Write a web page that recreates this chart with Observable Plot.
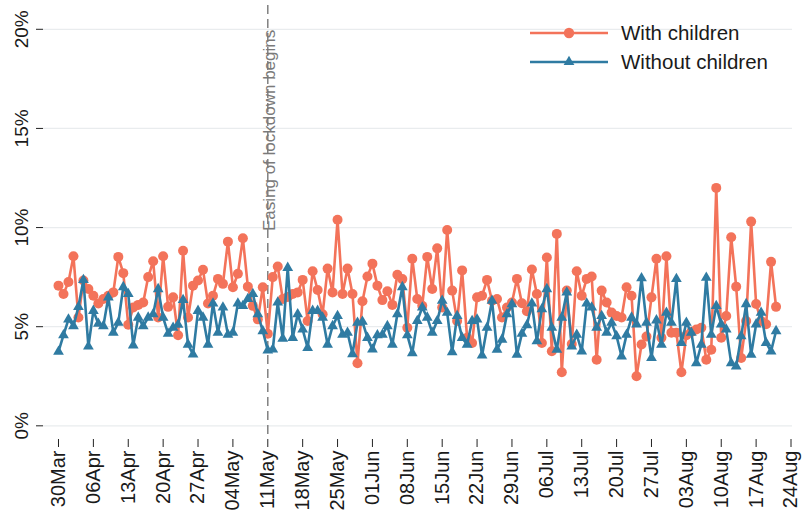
<!DOCTYPE html>
<html>
<head>
<meta charset="utf-8">
<script src="https://cdn.jsdelivr.net/npm/d3@7"></script>
<script src="https://cdn.jsdelivr.net/npm/@observablehq/plot@0.6"></script>
<style>
  body { margin: 0; background: #fff; font-family: "Liberation Sans", Arial, sans-serif; }
  #wrap { position: relative; width: 805px; height: 518px; overflow: hidden; }
  #legend { position: absolute; left: 0; top: 0; pointer-events: none; }
</style>
</head>
<body>
<div id="wrap"><div id="chart"></div><svg id="legend" width="805" height="100"></svg></div>
<script>
// ---- data ----
const startDate = "2020-03-30";
const seriesNames = ["With children", "Without children"];
const seriesColors = ["#f3735a", "#2f7ba2"];
const withChildren = [
  7.07, 6.65, 7.25, 8.55, 5.46, 7.33, 6.9, 6.56, 6.17, 6.4,
  6.56, 6.73, 8.52, 7.7, 5.1, 5.97, 6.1, 6.22, 7.5, 8.3,
  5.46, 8.55, 6.0, 6.48, 4.57, 8.83, 5.46, 7.07, 7.33, 7.87,
  6.17, 6.56, 7.41, 7.16, 9.29, 6.99, 7.67, 9.46, 7.02, 6.05,
  5.37, 6.99, 4.64, 7.5, 8.04, 6.4, 6.5, 6.65, 6.73, 7.36,
  5.29, 7.8, 6.85, 5.63, 7.93, 6.73, 10.39, 6.65, 7.93, 6.65,
  3.16, 6.28, 7.53, 8.18, 7.07, 6.34, 6.79, 6.1, 7.62, 7.4,
  4.95, 8.43, 6.4, 6.05, 8.52, 6.9, 8.95, 5.97, 9.88, 6.82,
  5.29, 7.84, 4.44, 4.18, 6.48, 6.56, 7.36, 6.31, 6.4, 5.46,
  5.97, 6.22, 7.41, 6.18, 5.78, 7.88, 6.65, 4.18, 8.49, 3.76,
  9.68, 2.7, 6.82, 4.13, 7.8, 6.56, 7.41, 7.53, 3.33, 6.82,
  6.22, 5.71, 5.54, 5.46, 6.99, 6.56, 2.5, 4.1, 4.5, 6.48,
  8.43, 4.44, 8.55, 4.7, 4.7, 2.7, 4.57, 4.74, 4.86, 4.95,
  3.33, 3.84, 12.0, 4.44, 5.54, 9.51, 7.02, 3.42, 5.29, 10.3,
  6.14, 5.29, 5.12, 8.27, 6.0
];
const withoutChildren = [
  3.74, 4.57, 5.37, 5.03, 6.0, 7.36, 4.0, 5.8, 5.15, 5.03,
  6.48, 4.7, 5.2, 7.0, 6.65, 4.06, 5.46, 5.03, 5.46, 5.63,
  6.9, 5.46, 4.65, 4.95, 5.1, 6.35, 4.1, 3.6, 5.8, 5.46,
  4.1, 6.17, 4.7, 5.97, 4.6, 4.7, 6.17, 6.05, 6.4, 6.65,
  5.63, 4.78, 3.8, 3.85, 6.22, 4.4, 7.97, 4.44, 5.63, 4.86,
  3.93, 5.8, 5.8, 5.46, 4.1, 5.03, 5.54, 4.6, 4.7, 3.62,
  5.2, 5.25, 4.44, 3.85, 4.57, 4.6, 5.03, 4.1, 5.63, 7.0,
  4.57, 3.67, 5.29, 5.97, 5.46, 4.7, 5.29, 6.31, 5.71, 3.72,
  5.54, 4.44, 4.1, 5.29, 5.37, 3.55, 4.95, 6.31, 3.84, 4.35,
  5.63, 6.14, 3.59, 4.65, 5.08, 6.17, 4.27, 5.88, 6.9, 4.95,
  3.84, 5.46, 6.73, 4.0, 4.6, 3.76, 6.17, 5.97, 4.95, 5.54,
  4.7, 5.2, 4.52, 3.5, 4.6, 5.46, 5.12, 7.45, 5.2, 3.42,
  5.32, 4.1, 5.71, 5.2, 7.41, 4.18, 5.2, 4.7, 3.16, 4.1,
  7.47, 4.6, 6.05, 5.12, 4.86, 3.16, 3.0, 4.52, 6.14, 3.59,
  5.12, 5.71, 4.18, 3.76, 4.78
];
const tickDates = [
  "2020-03-30", "2020-04-06", "2020-04-13", "2020-04-20", "2020-04-27", "2020-05-04",
  "2020-05-11", "2020-05-18", "2020-05-25", "2020-06-01", "2020-06-08", "2020-06-15",
  "2020-06-22", "2020-06-29", "2020-07-06", "2020-07-13", "2020-07-20", "2020-07-27",
  "2020-08-03", "2020-08-10", "2020-08-17", "2020-08-24"
];
const yTicks = [0, 5, 10, 15, 20];
const lockdownDate = "2020-05-11";
const lockdownLabel = "Easing of lockdown begins";
const lockdownLabelY = 14.9;

// ---- build table ----
const start = new Date(startDate);
const rows = [];
[withChildren, withoutChildren].forEach((vals, s) => {
  vals.forEach((v, i) => rows.push({date: d3.utcDay.offset(start, i), value: v, series: seriesNames[s]}));
});
const rowsWith = rows.filter(d => d.series === seriesNames[0]);
const rowsWithout = rows.filter(d => d.series === seriesNames[1]);
const DAY = 864e5;
const xDomain = [new Date(+new Date(tickDates[0]) - 3.01 * DAY), new Date(+new Date(tickDates[tickDates.length - 1]) + 0.3 * DAY)];
const lockdown = new Date(lockdownDate);

const chart = Plot.plot({
  width: 805,
  height: 518,
  marginTop: 5,
  marginBottom: 79,
  marginLeft: 43,
  marginRight: 13,
  style: {fontFamily: "'Liberation Sans', Arial, sans-serif", fontSize: "19px", color: "#1a1a1a", background: "#fff"},
  x: {type: "utc", domain: xDomain},
  y: {domain: [-0.69, 21.2]},
  color: {domain: seriesNames, range: seriesColors},
  marks: [
    Plot.gridY(yTicks, {stroke: "#e9ecee", strokeOpacity: 1, strokeWidth: 1.2}),
    Plot.axisY(yTicks, {tickFormat: d => d + "%", tickRotate: -90, tickSize: 7, tickPadding: 9, label: null, line: true, stroke: "#222", fontSize: 19}),
    Plot.axisX(tickDates.map(d => new Date(d)), {tickFormat: d3.utcFormat("%d%b"), tickRotate: -90, tickSize: 8, tickPadding: 3, label: null, line: true, stroke: "#222", fontSize: 20}),
    Plot.ruleX([lockdown], {stroke: "#808080", strokeWidth: 1.5, strokeDasharray: "9,5"}),
    Plot.text([lockdown], {x: d => d, y: () => lockdownLabelY, text: () => lockdownLabel, rotate: -90, lineAnchor: "top", textAnchor: "middle", fill: "#7a7a7a", fontSize: 17, dx: -5}),
    Plot.line(rowsWith, {x: "date", y: "value", stroke: seriesColors[0], strokeWidth: 2.6, strokeLinejoin: "round"}),
    Plot.dot(rowsWith, {x: "date", y: "value", fill: seriesColors[0], r: 5, symbol: "circle"}),
    Plot.line(rowsWithout, {x: "date", y: "value", stroke: seriesColors[1], strokeWidth: 2.6, strokeLinejoin: "round"}),
    Plot.dot(rowsWithout, {x: "date", y: "value", fill: seriesColors[1], r: 4, symbol: "triangle"})
  ]
});
document.getElementById("chart").appendChild(chart);

// ---- legend ----
const lg = d3.select("#legend");
const legendRows = [
  {name: seriesNames[0], color: seriesColors[0], sym: d3.symbolCircle, size: 85, y: 33},
  {name: seriesNames[1], color: seriesColors[1], sym: d3.symbolTriangle, size: 50, y: 62}
];
legendRows.forEach(r => {
  lg.append("line").attr("x1", 530).attr("x2", 608).attr("y1", r.y).attr("y2", r.y)
    .attr("stroke", r.color).attr("stroke-width", 2.6);
  lg.append("path").attr("d", d3.symbol(r.sym, r.size)()).attr("transform", `translate(569,${r.y})`).attr("fill", r.color);
  lg.append("text").attr("x", 621).attr("y", r.y).attr("dy", "0.36em")
    .attr("font-family", "'Liberation Sans', Arial, sans-serif").attr("font-size", 20.5).attr("fill", "#1a1a1a").text(r.name);
});
</script>
</body>
</html>
